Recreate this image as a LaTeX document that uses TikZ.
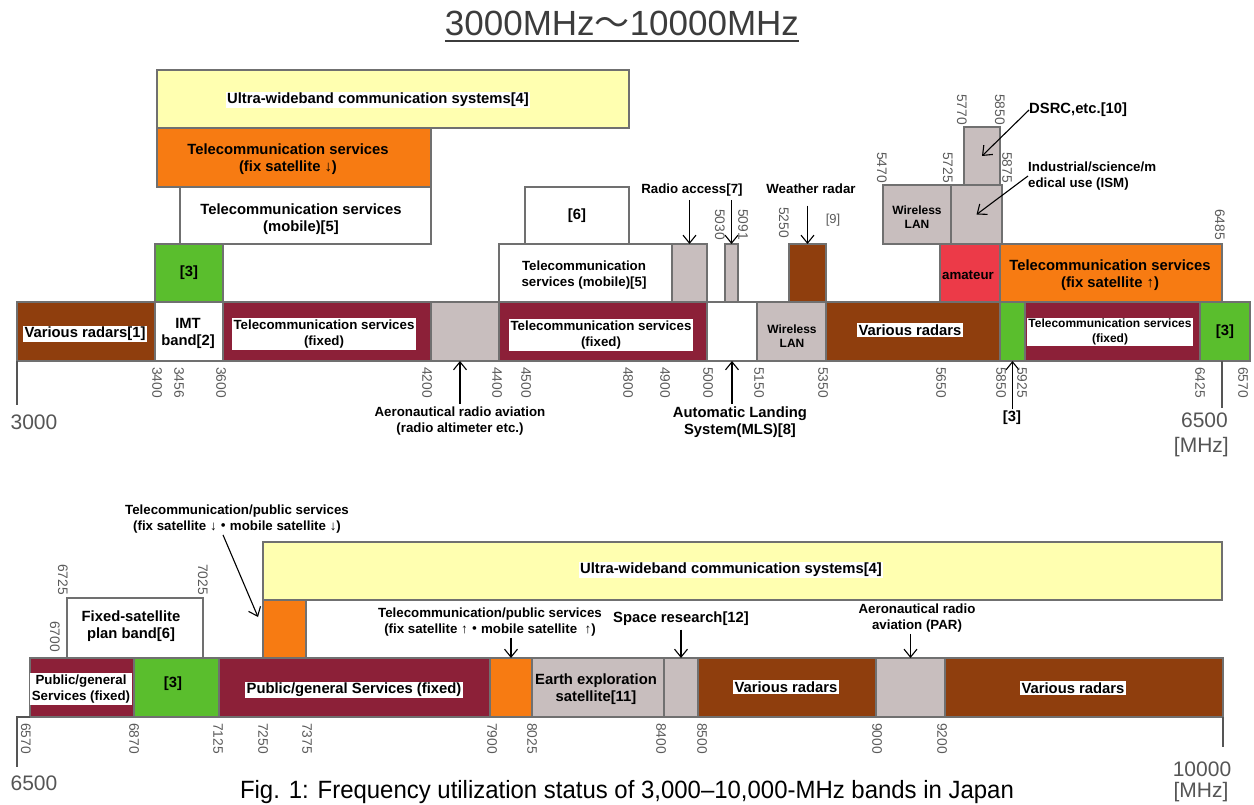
\documentclass[tikz,border=0pt]{standalone}
\usepackage{fontspec}
\setmainfont{Liberation Sans}
\newfontfamily\cjk{Noto Sans CJK JP}
\usetikzlibrary{arrows.meta,fit}
\definecolor{radar}{RGB}{143,62,13}
\definecolor{maroonc}{RGB}{140,32,56}
\definecolor{gry}{RGB}{200,190,190}
\definecolor{grn}{RGB}{90,190,45}
\definecolor{orng}{RGB}{247,123,18}
\definecolor{uwb}{RGB}{255,255,176}
\definecolor{amred}{RGB}{236,58,72}
\definecolor{edge}{RGB}{112,112,112}
\definecolor{numgray}{RGB}{90,90,90}
\definecolor{axgray}{RGB}{85,85,85}
\definecolor{titlegray}{RGB}{60,60,60}
\newcommand\fsz[2]{\fontsize{#1}{#2}\selectfont}
\newcommand\bx[6]{\node[band, fill=#5, fit={(#1,#2) (#3,#4)}] (#6) {};}
\tikzset{
 band/.style={draw=edge, line width=1.3pt, inner sep=0pt, outer sep=0pt},
 lA/.style={font=\bfseries\fsz{14.8pt}{17pt}, align=center, inner sep=1.5pt},
 lB/.style={font=\bfseries\fsz{13.3pt}{16pt}, align=center, inner sep=1.5pt},
 lC/.style={font=\bfseries\fsz{12pt}{14.5pt}, align=center, inner sep=1.5pt},
 wb/.style={fill=white},
 tk/.style={font=\fsz{13.8pt}{15pt}, text=numgray, rotate=-90, inner sep=0pt},
 ax/.style={font=\fsz{21pt}{24pt}, text=axgray, inner sep=0pt},
 arr/.style={-{Straight Barb[length=8pt,width=13pt]}, line width=1.1pt},
 axl/.style={draw=axgray, line width=1.5pt},
}
\begin{document}
\begin{tikzpicture}[x=1pt,y=-1pt]
\useasboundingbox (0,0) rectangle (1254,805);
% title
\node[font=\fsz{35pt}{40pt}, text=titlegray, inner sep=0pt, anchor=base] (title) at (622,36) {3000MHz{\cjk ～}10000MHz};
\draw[titlegray, line width=1.8pt] ([yshift=-5pt]title.base west) -- ([yshift=-5pt]title.base east);

% ===== upper band (3000-6570) =====
\bx{157}{70}{629}{128}{uwb}{uwbT}
\node[lA,wb] at (378,100) {Ultra-wideband communication systems[4]};
\bx{157}{128}{431}{187}{orng}{fsdT}
\node[lA] at (288,159) {Telecommunication services\\(fix satellite ↓)};
\bx{180}{187}{431}{244}{white}{mob3}
\node[lA] at (301,219) {Telecommunication services\\(mobile)[5]};
\bx{525}{187}{629}{244}{white}{b6}
\node[lA] at (b6) {[6]};
% layer 2
\bx{155}{244}{223}{302}{grn}{g3a}
\node[lA] at (g3a) {[3]};
\bx{499}{244}{672}{302}{white}{mob2}
\node[lB] at (584,275) {Telecommunication\\services (mobile)[5]};
\bx{672}{244}{707}{302}{gry}{rad7}
\bx{725}{244}{738}{302}{gry}{b5030}
\bx{789}{244}{826}{302}{radar}{wrad}
\bx{883}{185}{951}{244}{gry}{wlan2}
\node[lC] at (917,217) {Wireless\\LAN};
\bx{951}{185}{1002}{244}{gry}{ism}
\bx{964}{127}{1000}{185}{gry}{dsrc}
\bx{940}{244}{1000}{302}{amred}{amat}
\node[lB] at (968,275) {amateur};
\bx{1000}{244}{1222}{302}{orng}{fsuT}
\node[lA] at (1110,275) {Telecommunication services\\(fix satellite ↑)};
% main bar
\bx{17}{302}{155}{361}{radar}{r1}
\node[lA,wb] at (85,334) {Various radars[1]};
\bx{155}{302}{223}{361}{white}{imt}
\node[lA] at (188,333) {IMT\\band[2]};
\bx{223}{302}{431}{361}{maroonc}{fx1}
\node[lB,wb] at (324,334) {Telecommunication services\\(fixed)};
\bx{431}{302}{499}{361}{gry}{aero}
\bx{499}{302}{707}{361}{maroonc}{fx2}
\node[lB,wb] at (601,335) {Telecommunication services\\(fixed)};
\bx{707}{302}{757}{361}{white}{mls}
\bx{757}{302}{826}{361}{gry}{wlan1}
\node[lC] at (792,336) {Wireless\\LAN};
\bx{826}{302}{1000}{361}{radar}{r2}
\node[lA,wb] at (910,330) {Various radars};
\bx{1000}{302}{1025}{361}{grn}{g3b}
\bx{1025}{302}{1200}{361}{maroonc}{fx3}
\node[lC,wb] at (1110,332) {Telecommunication services\\(fixed)};
\bx{1200}{302}{1250}{361}{grn}{g3c}
\node[lA] at (1225,332) {[3]};

% labels and arrows (upper)
\node[lB] (ralbl) at (692,190) {Radio access[7]};
\draw[arr, shorten <=2pt] (ralbl.south -| rad7.north) -- (rad7.north);
\draw[arr, shorten <=2pt] (ralbl.south -| b5030.north) -- (b5030.north);
\node[lB] (wrlbl) at (811,189) {Weather radar};
\draw[arr, shorten <=10pt] (wrlbl.south -| wrad.north) -- (wrad.north);
\node[font=\fsz{13pt}{15pt}, text=numgray] at (833,220) {[9]};
\node[lA, anchor=west, inner sep=0pt] (dsrclbl) at (1029,110) {DSRC,etc.[10]};
\draw[arr] (dsrclbl.west) -- (dsrc.center);
\node[lB, anchor=west, align=left, inner sep=0pt] (ismlbl) at (1028,176) {Industrial/science/m\\edical use (ISM)};
\draw[arr] (ismlbl.west) -- (ism.center);
\node[lB] (aelbl) at (460,421) {Aeronautical radio aviation\\(radio altimeter etc.)};
\draw[arr, shorten <=1pt] (aelbl.north) -- (aelbl.north |- aero.south);
\node[lA] (mlslbl) at (740,422) {Automatic Landing\\System(MLS)[8]};
\draw[arr, shorten <=1pt] (mlslbl.north -| mls.south) -- (mls.south);
\node[lA] (l3) at (1012,418) {[3]};
\draw[arr] (l3.north -| g3b.south) -- (g3b.south);

% axis (upper)
\draw[axl] (r1.south west) -- ++(0,44);
\coordinate (t6500) at (1222,361);
\draw[axl] (t6500) -- ++(0,47);
\node[ax] at (34,422) {3000};
\node[ax, anchor=east] at (1228,420) {6500};
\node[ax, anchor=east] at (1229,447) {[MHz]};

% tick labels (upper)
\foreach \x/\t in {157/3400,179/3456,221/3600,427/4200,497/4400,526/4500,628/4800,665/4900,708/5000,759/5150,823/5350,941/5650,1001/5850,1022/5925,1200/6425,1243/6570}
  \node[tk, anchor=west] at (\x,367) {\t};
\node[tk, anchor=north east] at (725,240) {5030};
\node[tk, anchor=south east] at (738,240) {5091};
\node[tk, anchor=north east] at (789,238) {5250};
\node[tk, anchor=north east] at (887,183) {5470};
\node[tk, anchor=north east] at (953,183) {5725};
\node[tk, anchor=north east] at (967,125) {5770};
\node[tk, anchor=north east] at (1005,125) {5850};
\node[tk, anchor=south east] at (1002,183) {5875};
\node[tk, anchor=north east] at (1225,240) {6485};

% ===== lower band (6570-10000) =====
\bx{263}{542}{1222}{600}{uwb}{uwbB}
\node[lA,wb] at (731,570) {Ultra-wideband communication systems[4]};
\bx{263}{600}{306}{658}{orng}{or2}
\bx{67}{598}{203}{658}{white}{fsp}
\node[lA] at (131,626) {Fixed-satellite\\plan band[6]};
\bx{30}{658}{134}{717}{maroonc}{pg1}
\node[lB,wb] at (81,689) {Public/general\\Services (fixed)};
\bx{134}{658}{219}{717}{grn}{g3d}
\node[lA] at (173,684) {[3]};
\bx{219}{658}{490}{717}{maroonc}{pg2}
\node[lA,wb] at (354,690) {Public/general Services (fixed)};
\bx{490}{658}{532}{717}{orng}{or3}
\bx{532}{658}{664}{717}{gry}{ees}
\node[lA] at (596,689) {Earth exploration\\satellite[11]};
\bx{664}{658}{698}{717}{gry}{spr}
\bx{698}{658}{876}{717}{radar}{r3}
\node[lA,wb] at (786,687) {Various radars};
\bx{876}{658}{945}{717}{gry}{par}
\bx{945}{658}{1223}{717}{radar}{r4}
\node[lA,wb] at (1073,688) {Various radars};

% labels and arrows (lower)
\node[lB] (tp1) at (237,519) {Telecommunication/public services\\(fix satellite ↓{\cjk ・}mobile satellite ↓)};
\draw[arr] ([xshift=-14pt]tp1.south) -- ([xshift=-5pt,yshift=12pt]or2.west);
\node[lB] (tp2) at (490,622) {Telecommunication/public services\\(fix satellite ↑{\cjk ・}mobile satellite \ ↑)};
\draw[arr] (tp2.south -| or3.north) -- (or3.north);
\node[lA] (srlbl) at (681,619) {Space research[12]};
\draw[arr, shorten <=2pt] (srlbl.south -| spr.north) -- (spr.north);
\node[lB] (parlbl) at (917,618) {Aeronautical radio\\aviation (PAR)};
\draw[arr] (parlbl.south -| par.north) -- (par.north);

% axis (lower)
\coordinate (b6500) at (17,717);
\draw[axl] (pg1.south west) -- (b6500) -- ++(0,50);
\draw[axl] (r4.south east) -- ++(0,30);
\node[ax] at (34,783) {6500};
\node[ax] at (1202,769) {10000};
\node[ax] at (1201,792) {[MHz]};

% tick labels (lower)
\foreach \x/\t in {26/6570,134/6870,218/7125,263/7250,307/7375,492/7900,532/8025,661/8400,702/8500,877/9000,942/9200}
  \node[tk, anchor=west] at (\x,723) {\t};
\node[tk, anchor=north east] at (68,595) {6725};
\node[tk, anchor=north east] at (60,652) {6700};
\node[tk, anchor=north east] at (208,595) {7025};

% caption
\node[font=\fsz{25pt}{28pt}, anchor=base, inner sep=0pt] (cap) at (627,798) {\scalebox{0.958}[1]{Fig. 1: Frequency utilization status of 3,000–10,000-MHz bands in Japan}};
\end{tikzpicture}
\end{document}
